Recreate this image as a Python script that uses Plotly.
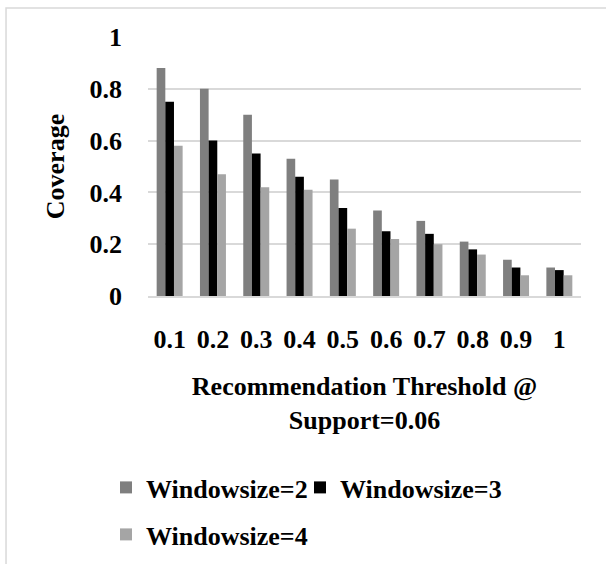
import plotly.graph_objects as go

# Recommendation thresholds on the x axis
thresholds = ["0.1", "0.2", "0.3", "0.4", "0.5", "0.6", "0.7", "0.8", "0.9", "1"]

# Coverage for each window size
coverage_w2 = [0.88, 0.80, 0.70, 0.53, 0.45, 0.33, 0.29, 0.21, 0.14, 0.11]
coverage_w3 = [0.75, 0.60, 0.55, 0.46, 0.34, 0.25, 0.24, 0.18, 0.11, 0.10]
coverage_w4 = [0.58, 0.47, 0.42, 0.41, 0.26, 0.22, 0.20, 0.16, 0.08, 0.08]

series_names = ["Windowsize=2", "Windowsize=3", "Windowsize=4"]
y_ticks = [0, 0.2, 0.4, 0.6, 0.8, 1]
y_tick_text = ["0", "0.2", "0.4", "0.6", "0.8", "1"]

FONT = "Times New Roman, Liberation Serif, DejaVu Serif, serif"
W, H = 606, 564
L, R, T, B = 148, 25, 37, 268

fig = go.Figure()
fig.add_trace(go.Bar(x=thresholds, y=coverage_w2, name=series_names[0],
                     marker=dict(color="#7f7f7f", line_width=0), legend="legend"))
fig.add_trace(go.Bar(x=thresholds, y=coverage_w3, name=series_names[1],
                     marker=dict(color="#000000", line_width=0), legend="legend2"))
fig.add_trace(go.Bar(x=thresholds, y=coverage_w4, name=series_names[2],
                     marker=dict(color="#a5a5a5", line_width=0), legend="legend3"))

pw, ph = W - L - R, H - T - B


def px_x(p):
    return (p - L) / pw


def px_y(p):
    return (H - B - p) / ph


def cx(p):
    return p / W


def cy(p):
    return 1 - p / H


# thin grey frame along the left and top of the chart area
frame_path = "M {:.4f} {:.4f} L {:.4f} {:.4f} L {:.4f} {:.4f}".format(
    px_x(6), px_y(570), px_x(6), px_y(8), px_x(612), px_y(8))

bold26 = dict(family=FONT, size=26, color="black", weight="bold")


def legend_at(x_px, y_px):
    return dict(orientation="h", xref="container", yref="container",
                x=cx(x_px), y=cy(y_px), xanchor="left", yanchor="top",
                font=bold26, bgcolor="rgba(0,0,0,0)", itemclick=False, visible=True)


fig.update_layout(
    width=W, height=H,
    showlegend=True,
    margin=dict(l=L, r=R, t=T, b=B, autoexpand=False),
    paper_bgcolor="white", plot_bgcolor="white",
    barmode="group", bargap=0.4, bargroupgap=0,
    font=bold26,
    xaxis=dict(
        tickfont=bold26, automargin=False,
        showgrid=False, zeroline=False, showline=True, linecolor="#d9d9d9",
        linewidth=1.5, ticks="", ticklabelstandoff=19,
        title=dict(text="Recommendation Threshold @<br>Support=0.06",
                   font=bold26, standoff=24),
    ),
    yaxis=dict(
        range=[0, 1], tickvals=y_ticks, ticktext=y_tick_text,
        tickfont=bold26, automargin=False,
        showgrid=True, gridcolor="#d9d9d9", gridwidth=1.5, zeroline=False,
        showline=False, ticks="", ticklabelstandoff=25,
        title=dict(text="Coverage", font=bold26, standoff=17),
    ),
    legend=legend_at(106, 464),
    legend2=legend_at(300, 464),
    legend3=legend_at(106, 511),
    shapes=[dict(type="path", path=frame_path, xref="paper", yref="paper",
                 line=dict(color="#d9d9d9", width=1.5), layer="below")],
)

fig.write_html("out.html")
